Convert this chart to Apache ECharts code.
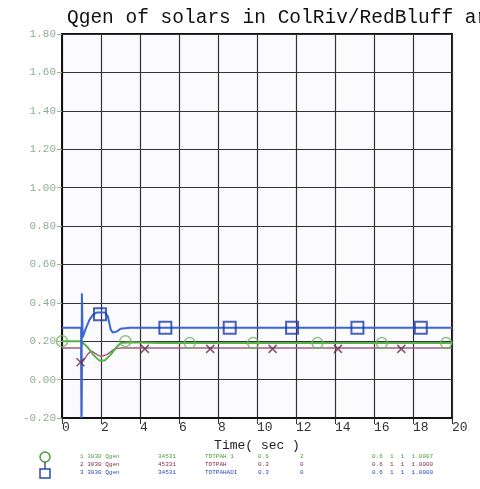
<!DOCTYPE html>
<html>
<head>
<meta charset="utf-8">
<script src="https://cdn.jsdelivr.net/npm/echarts@6/dist/echarts.min.js"></script>
<style>
  html, body { margin: 0; padding: 0; background: #fff; }
  #chart { width: 480px; height: 489px; }
</style>
</head>
<body>
<div id="chart"></div>
<script>
// time axis (sec)
const xTicks = [0, 2, 4, 6, 8, 10, 12, 14, 16, 18, 20]

// blue (square) curve
const blueT = [0, 0.98, 1.0, 1.02, 1.06, 1.2, 1.4, 1.6, 1.8, 2.0, 2.2, 2.35, 2.5, 2.6, 2.8, 3.0, 3.5, 5, 10, 15, 20]
const blueV = [0.27, 0.27, -0.2, 0.45, 0.22, 0.26, 0.31, 0.34, 0.35, 0.35, 0.35, 0.33, 0.26, 0.245, 0.25, 0.265, 0.27, 0.27, 0.27, 0.27, 0.27]
const blueMarkT = [1.95, 5.3, 8.6, 11.8, 15.15, 18.4]
const blueMarkV = [0.34, 0.27, 0.27, 0.27, 0.27, 0.27]

// green (circle) curve
const greenT = [0, 0.98, 1.0, 1.02, 1.3, 1.6, 1.9, 2.0, 2.2, 2.5, 2.8, 3.0, 3.5, 5, 10, 15, 20]
const greenV = [0.20, 0.20, 0.19, 0.2, 0.17, 0.13, 0.10, 0.095, 0.10, 0.13, 0.17, 0.19, 0.195, 0.19, 0.19, 0.19, 0.19]
const greenMarkT = [0, 3.25, 6.55, 9.8, 13.1, 16.4, 19.7]
const greenMarkV = [0.20, 0.20, 0.19, 0.19, 0.19, 0.19, 0.19]

// maroon (x) curve
const redT = [0, 0.98, 1.0, 1.04, 1.3, 1.5, 1.8, 2.0, 2.3, 2.7, 3.0, 5, 10, 15, 20]
const redV = [0.165, 0.165, -0.2, 0.09, 0.13, 0.15, 0.13, 0.12, 0.13, 0.16, 0.165, 0.165, 0.165, 0.165, 0.165]
const redMarkT = [0.95, 4.25, 7.6, 10.8, 14.15, 17.4]
const redMarkV = [0.09, 0.16, 0.16, 0.16, 0.16, 0.16]

// legend rows (barely legible in source)
const legendRows = [
  ['1 3030 Qgen', '34531', 'TOTPAH 1', '0.6', '2', '0.6  1  1  1.0007'],
  ['2 3030 Qgen', '45331', 'TOTPAH', '0.3', '0', '0.6  1  1  1.0000'],
  ['3 3030 Qgen', '34531', 'TOTPAHADI', '0.3', '0', '0.6  1  1  1.0000']
]
const legendColors = ['#4a9e3a', '#8a2a4a', '#2a4ab8']

const zip = (a, b) => a.map((t, i) => [t, b[i]])

const chart = echarts.init(document.getElementById('chart'))

const legendGraphics = []
legendRows.forEach((row, r) => {
  const y = 453 + r * 8
  const xs = [80, 158, 205, 258, 300, 372]
  row.forEach((txt, c) => {
    legendGraphics.push({
      type: 'text', left: xs[c], top: y,
      style: { text: txt, fill: legendColors[r], font: '6px "Liberation Mono"' }
    })
  })
})

chart.setOption({
  animation: false,
  title: {
    text: 'Qgen of solars in ColRiv/RedBluff area',
    left: 62, top: 3,
    textStyle: { fontFamily: 'Liberation Mono', fontSize: 19.5, fontWeight: 'normal', color: '#111' }
  },
  grid: { left: 62, right: 28, top: 34, bottom: 71, show: true, borderColor: '#111', borderWidth: 2, backgroundColor: '#fbfbfd' },
  xAxis: {
    type: 'value', min: 0, max: 20, interval: 2,
    name: 'Time( sec )', nameLocation: 'middle', nameGap: 19,
    nameTextStyle: { fontFamily: 'Liberation Mono', fontSize: 13, color: '#222' },
    axisLine: { onZero: false, lineStyle: { color: '#111', width: 2 } },
    axisTick: { show: true, length: 6, lineStyle: { color: '#333' } },
    axisLabel: { fontFamily: 'Liberation Mono', fontSize: 13, color: '#333', align: 'left', margin: 3,
      formatter: v => xTicks.includes(v) ? String(v) : '' },
    splitLine: { show: true, lineStyle: { color: '#333', width: 1.2 } }
  },
  yAxis: {
    type: 'value', min: -0.2, max: 1.8, interval: 0.2,
    axisLine: { onZero: false, lineStyle: { color: '#111', width: 2 } },
    axisTick: { show: true, length: 5, lineStyle: { color: '#9ab09a' } },
    axisLabel: { fontFamily: 'Liberation Mono', fontSize: 11, color: '#8fae95', margin: 6,
      formatter: v => v.toFixed(2) },
    splitLine: { show: true, lineStyle: { color: '#333', width: 1.2 } }
  },
  graphic: [
    { type: 'circle', shape: { cx: 45, cy: 457, r: 5 }, style: { fill: 'none', stroke: '#4a9e3a', lineWidth: 1.5 } },
    { type: 'line', shape: { x1: 45, y1: 462, x2: 45, y2: 469 }, style: { stroke: '#555', lineWidth: 1.5 } },
    { type: 'rect', shape: { x: 40, y: 469, width: 10, height: 9 }, style: { fill: 'none', stroke: '#2a4ab8', lineWidth: 1.5 } }
  ].concat(legendGraphics),
  series: [
    { type: 'line', data: zip(redT, redV), showSymbol: false, lineStyle: { color: '#a0607e', width: 1.5 }, z: 2 },
    { type: 'line', data: zip(greenT, greenV), showSymbol: false, lineStyle: { color: '#5ab04a', width: 2 }, z: 3 },
    { type: 'line', data: zip(blueT, blueV), showSymbol: false, lineStyle: { color: '#3a66d8', width: 2 }, z: 4 },
    { type: 'scatter', data: zip(redMarkT, redMarkV), symbol: 'path://M0,0L10,10M10,0L0,10', symbolSize: 8,
      itemStyle: { color: 'none', borderColor: '#6a2a4a', borderWidth: 1.5 }, z: 5 },
    { type: 'scatter', data: zip(greenMarkT, greenMarkV), symbol: 'circle', symbolSize: 11,
      itemStyle: { color: 'rgba(0,0,0,0)', borderColor: '#6ab85a', borderWidth: 1.5 }, z: 5 },
    { type: 'scatter', data: zip(blueMarkT, blueMarkV), symbol: 'rect', symbolSize: 12,
      itemStyle: { color: 'rgba(0,0,0,0)', borderColor: '#1e3aa8', borderWidth: 2 }, z: 6 }
  ]
})
</script>
</body>
</html>
